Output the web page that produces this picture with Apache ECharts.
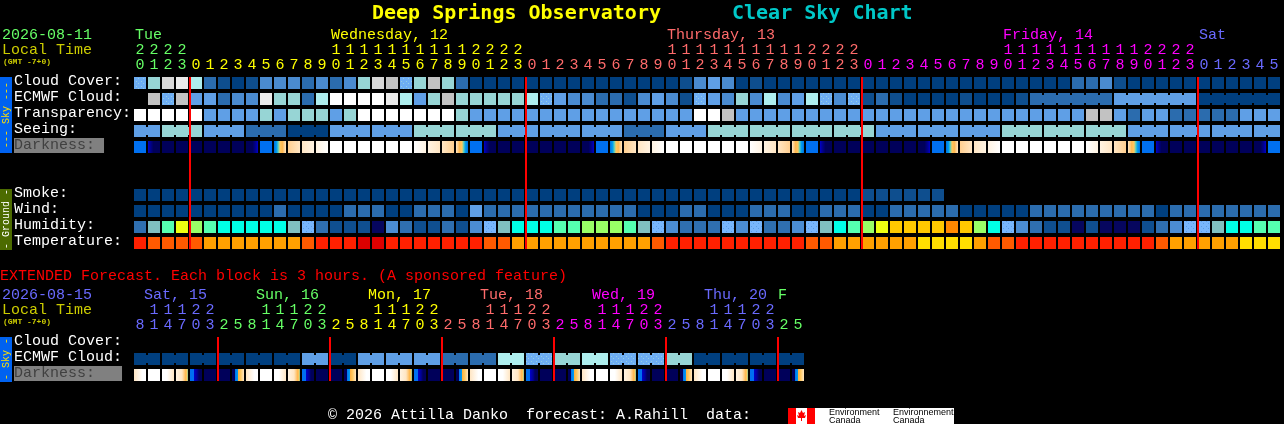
<!DOCTYPE html>
<html><head><meta charset="utf-8">
<style>html,body{margin:0;padding:0;background:#000;overflow:hidden}#c{width:1284px;height:424px}</style>
<script src="https://cdn.jsdelivr.net/npm/echarts@6/dist/echarts.min.js"></script>
</head><body><div id="c"></div>
<script>
/* ---------- data ---------- */
const hourUnits = "0 1 2 3 0 1 2 3 4 5 6 7 8 9 0 1 2 3 4 5 6 7 8 9 0 1 2 3 0 1 2 3 4 5 6 7 8 9 0 1 2 3 4 5 6 7 8 9 0 1 2 3 0 1 2 3 4 5 6 7 8 9 0 1 2 3 4 5 6 7 8 9 0 1 2 3 0 1 2 3 4 5".split(" ");
const hourTens  = "2 2 2 2 . . . . . . . . . . 1 1 1 1 1 1 1 1 1 1 2 2 2 2 . . . . . . . . . . 1 1 1 1 1 1 1 1 1 1 2 2 2 2 . . . . . . . . . . 1 1 1 1 1 1 1 1 1 1 2 2 2 2 . . . . . .".split(" ").map(s => s === "." ? "" : s);
const dayNames = {0:"Tue",14:"Wednesday, 12",38:"Thursday, 13",62:"Friday, 14",76:"Sat"};
const rowLabels = ["Cloud Cover:","ECMWF Cloud:","Transparency:","Seeing:","Darkness:","","","Smoke:","Wind:","Humidity:","Temperature:"];
const midnights = [4,28,52,76];

const cloudCover   = [5,6,9,10,7,2,1,0,1,3,3,3,2,3,2,3,6,9,8,5,6,8,6,2,0,0,0,0,0,0,0,0,0,0,0,0,0,0,0,1,3,4,3,0,1,0,0,0,0,0,0,0,0,0,0,0,0,0,0,0,0,0,0,0,0,0,0,2,2,3,1,0,0,0,0,0,0,0,0,0,0,0];
const ecmwfCloud   = [null,8,5,8,4,4,2,3,3,10,6,6,2,7,11,11,11,11,10,7,4,6,8,6,6,6,6,6,7,5,4,3,3,2,2,1,3,4,3,1,5,4,3,6,3,7,3,4,7,5,3,5,1,2,1,0,0,0,0,1,0,0,0,1,2,2,2,2,2,2,4,4,4,4,4,4,0,0,0,0,0,0];
const ecmwfBlocks  = [64,6,6,6];
const transparency = [11,11,11,11,11,4,4,4,4,6,4,6,6,6,4,6,11,11,11,11,11,11,11,6,4,4,4,4,4,4,4,4,4,4,4,4,4,4,4,4,11,11,8,4,4,4,4,4,4,4,4,4,4,4,4,4,4,4,4,4,4,4,4,4,4,4,4,4,8,8,4,2,4,4,2,2,2,2,2,4,4,4];
const seeing       = [4,4,6,6,6,4,4,4,2,2,2,0,0,0,4,4,4,4,4,4,6,6,6,6,6,6,4,4,4,4,4,4,4,4,4,2,2,2,4,4,4,6,6,6,6,6,6,6,6,6,6,6,6,4,4,4,4,4,4,4,4,4,6,6,6,6,6,6,6,6,6,4,4,4,4,4,4,4,4,4,4,4];
const seeingBlocks = [2,3,3,3,3,3,3,3,3,3,3,3,3,3,3,3,3,3,3,3,3,3,3,3,3,3,3,2];
const darkness     = [3,2,0,0,0,0,0,0,1,3,4,5,6,7,8,8,8,8,8,8,9,10,11,12,3,2,0,0,0,0,0,0,1,3,4,5,6,7,8,8,8,8,8,8,9,10,11,12,3,2,0,0,0,0,0,0,1,3,4,5,6,7,8,8,8,8,8,8,9,10,11,12,3,2,0,0,0,0,0,0,1,3];
const smoke        = [0,0,0,0,0,0,0,0,0,0,0,0,0,0,0,0,0,0,0,0,0,0,0,0,0,0,0,0,0,0,0,0,0,0,0,0,0,0,0,0,0,0,0,0,0,0,0,0,0,0,0,0,1,1,1,1,1,1];
const wind         = [0,0,0,0,0,0,0,0,0,0,2,0,0,0,0,2,2,2,0,0,2,2,2,0,4,2,2,2,2,2,2,2,2,2,2,2,0,0,0,2,2,0,0,0,2,2,2,0,0,2,2,2,0,0,2,2,2,2,2,0,0,0,0,0,2,2,2,2,2,2,2,2,2,0,2,2,2,2,2,2,2,2];
const humidity     = [2,5,7,9,8,7,6,6,6,6,6,5,4,2,1,1,1,0,3,2,1,1,2,1,3,4,5,6,6,6,7,7,8,8,8,7,5,4,3,2,2,2,4,3,4,2,2,3,4,5,6,7,8,9,10,10,10,10,11,10,8,6,4,3,2,1,1,0,1,0,0,0,1,2,3,4,4,5,6,6,7,7];
const temperature  = [1,2,2,2,2,3,3,3,3,3,3,3,2,1,1,1,0,0,1,1,1,1,1,1,1,2,2,3,3,3,3,3,3,3,3,3,3,2,1,1,1,1,1,1,1,1,1,1,2,2,3,3,3,3,3,3,4,4,4,4,3,2,2,1,1,1,1,1,1,1,1,1,1,2,3,3,3,3,3,4,4,4];

const extUnits = "8 1 4 7 0 3 2 5 8 1 4 7 0 3 2 5 8 1 4 7 0 3 2 5 8 1 4 7 0 3 2 5 8 1 4 7 0 3 2 5 8 1 4 7 0 3 2 5".split(" ");
const extTens  = ". 1 1 1 2 2 . . . 1 1 1 2 2 . . . 1 1 1 2 2 . . . 1 1 1 2 2 . . . 1 1 1 2 2 . . . 1 1 1 2 2 . .".split(" ").map(s => s === "." ? "" : s);
const extDays  = {0:"Sat, 15",8:"Sun, 16",16:"Mon, 17",24:"Tue, 18",32:"Wed, 19",40:"Thu, 20",46:"F"};
const extRowLabels = ["Cloud Cover:","ECMWF Cloud:","Darkness:"];
const extMidnights = [6,14,22,30,38,46];
const extEcmwf = [0,0,0,0,0,0,4,0,4,4,4,2,2,7,5,6,7,5,5,6,0,0,0,0];   /* one value per 2-block group */
const extDarkness = [13,8,14,15,16,0,0,17,13,8,14,15,16,0,0,17,13,8,14,15,16,0,0,17,13,8,14,15,16,0,0,17,13,8,14,15,16,0,0,17,13,8,14,15,16,0,0,17];

/* ---------- styles ---------- */
const FONT = '"Liberation Mono"';
const GREEN="#66ff66", YEL="#ffff00", SAL="#ff6b6b", MAG="#ff00ff", BLU="#6a6aff";
const mainDayColor = i => i<4?GREEN : i<28?YEL : i<52?SAL : i<76?MAG : BLU;
const extDayColor  = i => i<6?BLU : i<14?GREEN : i<22?YEL : i<30?SAL : i<38?MAG : i<46?BLU : GREEN;
function dotted(base,dot){ /* dither texture of the lightest blue cells */
  const cv=document.createElement("canvas"); cv.width=cv.height=5;
  const g=cv.getContext("2d"); g.fillStyle=base; g.fillRect(0,0,5,5);
  g.fillStyle=dot; g.fillRect(1,1,1,1); g.fillRect(3,3,1,1);
  return {image:cv,repeat:"repeat"};
}
const cloudPal = ["#003f7f","#0e4e8e","#2b6cae","#4a8bd0","#5f9fe6",dotted("#6eaef4","#94d0e0"),"#97d5d5","#aeeeee","#c2c2c2","#d8d8d8","#ebebeb","#ffffff"];
const humPal   = ["#06065e","#0f4f90","#2f6fb0","#4b8cd2",dotted("#78b6fc","#5a9ce6"),"#80c0c0","#00ffe6","#55ffb0","#99ff66","#eeff11","#ffc800","#ff8800"];
const tempPal  = ["#dd0000","#ff2000","#ff5a00","#ffa000","#ffde00"];
const N="#00005a", B="#0070f0", P="#fff3e2", C="#ffe6c4", O="#ffcf90";
const darkStops = [
 [[0,N],[1,N]],
 [[0,N],[.55,N],[.8,"#000090"],[1,"#0000c8"]],
 [[0,"#0000c8"],[.2,"#000090"],[.45,N],[1,N]],
 [[0,B],[1,"#0070f0"]],
 [[0,"#0070e0"],[.22,"#00a0f0"],[.38,"#70d0b0"],[.5,"#ffc860"],[.7,"#ffb850"],[1,C]],
 [[0,O],[1,C]],
 [[0,C],[1,P]],
 [[0,P],[1,"#ffffff"]],
 [[0,"#ffffff"],[1,"#ffffff"]],
 [[0,"#ffffff"],[1,P]],
 [[0,P],[1,C]],
 [[0,C],[1,O]],
 [[0,C],[.3,"#ffb850"],[.5,"#ffc860"],[.62,"#70d0b0"],[.78,"#00a0f0"],[1,"#0070e0"]],
 [[0,C],[.7,"#ffffff"],[1,"#ffffff"]],
 [[0,"#ffffff"],[.4,"#ffffff"],[1,C]],
 [[0,P],[.5,C],[.8,"#ffb850"],[.92,"#ffc860"],[1,"#60c8a0"]],
 [[0,B],[.33,B],[.35,"#0000c8"],[.6,"#000090"],[.75,N],[1,N]],
 [[0,N],[.22,N],[.25,B],[.5,"#00a0f0"],[.52,"#ffb040"],[.72,"#ffc860"],[1,C]]
];
const darkFill = darkStops.map(st => ({type:"linear",x:0,y:0,x2:1,y2:0,colorStops:st.map(s=>({offset:s[0],color:s[1]}))}));

/* ---------- helpers ---------- */
function blockEnds(blocks){ const s=new Set(); let p=0; blocks.forEach(n=>{p+=n; s.add(p-1)}); return s; }
function toData(values,row,joined){ /* joined(col) -> cell connects to the next one */
  const out=[]; values.forEach((v,c)=>{ if(v!==null) out.push([c,row,v,joined&&joined(c)&&c<values.length-1?1:0]); });
  return out;
}
function cells(name,gridIx,values,row,fills,joined){
  return {name,type:"custom",xAxisIndex:gridIx*3,yAxisIndex:gridIx,silent:true,animation:false,clip:false,
    data:toData(values,row,joined),encode:{x:0,y:1},
    renderItem(p,api){
      const c=api.coord([api.value(0),api.value(1)]), s=api.size([1,1]);
      const w=s[0]-2, h=s[1]-4, fill=fills[api.value(2)], kids=[
        {type:"rect",shape:{x:c[0]-w/2,y:c[1]-h/2,width:w,height:h},style:{fill}}];
      if(api.value(3)) kids.push({type:"rect",shape:{x:c[0]+w/2-1,y:c[1]-4,width:4,height:8},style:{fill}});
      return {type:"group",children:kids};
    }};
}
function redLines(name,gridIx,cols,firstRow,lastRow){
  return {name,type:"custom",xAxisIndex:gridIx*3,yAxisIndex:gridIx,silent:true,animation:false,clip:false,z:10,
    data:cols.map(c=>[c]),encode:{x:0},
    renderItem(p,api){
      const s=api.size([1,1]), a=api.coord([api.value(0),firstRow]), b=api.coord([api.value(0),lastRow]);
      const top=a[1]-s[1]/2+2, bot=b[1]+s[1]/2-2;
      return {type:"rect",z2:100,shape:{x:a[0]-s[0]/2,y:top,width:2,height:bot-top},style:{fill:"#ff0000"}};
    }};
}
function xAxes(gridIx,units,tens,days,colorFn,dayPad){
  const n=units.length, base={type:"category",gridIndex:gridIx,position:"top",axisLine:{show:false},axisTick:{show:false},splitLine:{show:false},silent:true};
  const lbl={interval:0,hideOverlap:false,fontFamily:FONT,fontSize:15,color:(v,i)=>colorFn(i)};
  const dayCats=[]; for(let i=0;i<=n;i++) dayCats.push(days[i]||"");
  return [
    {...base,data:units,axisLabel:{...lbl,margin:2}},
    {...base,data:tens,offset:15,axisLabel:{...lbl,margin:2}},
    {...base,data:dayCats.map((d,i)=>({value:d||("_"+i)})),boundaryGap:false,offset:30,
      axisLabel:{...lbl,margin:2,align:"left",
        formatter:(v)=>v[0]==="_"?"":(v==="F"?"{f|F}":"{d|"+v+"}"),
        color:(v,i)=>colorFn(i===undefined?0:i),
        rich:{d:{padding:[0,0,0,dayPad]},f:{padding:[0,0,0,1]}}}}
  ];
}
function yAxis(gridIx,labels,darkPad){
  return {type:"category",gridIndex:gridIx,inverse:true,data:labels,axisLine:{show:false},axisTick:{show:false},splitLine:{show:false},silent:true,
    axisLabel:{interval:0,align:"left",margin:119,fontFamily:FONT,fontSize:15,color:"#ffffff",padding:[0,0,3,0],
      formatter:v=>v==="Darkness:"?"{d|Darkness:}":v,
      rich:{d:{backgroundColor:"#808080",color:"#404040",fontFamily:FONT,fontSize:15,lineHeight:15,padding:[0,darkPad,0,0]}}}};
}
const t=(text,x,y,fill,size,extra)=>({type:"text",x,y,silent:true,style:{text,fill,font:(extra||"")+" "+size+"px "+FONT,textVerticalAlign:"middle"}});
const sideBar=(y,h,fill)=>({type:"rect",shape:{x:0,y,width:12,height:h},style:{fill},silent:true});
const sideText=(text,cy,fill)=>({type:"text",x:6,y:cy,rotation:Math.PI/2,silent:true,style:{text,fill,font:"10px "+FONT,textAlign:"center",textVerticalAlign:"middle"}});

const seeEnds=blockEnds(seeingBlocks), ecmwfEnds=blockEnds(ecmwfBlocks);
const option={
  backgroundColor:"#000",animation:false,tooltip:{show:false},
  title:[
    {text:"Deep Springs Observatory",left:372,top:4,padding:0,textStyle:{color:"#ffff00",fontFamily:'"DejaVu Sans Mono"',fontWeight:"bold",fontSize:20}},
    {text:"Clear Sky Chart",left:732,top:4,padding:0,textStyle:{color:"#00c8c8",fontFamily:'"DejaVu Sans Mono"',fontWeight:"bold",fontSize:20}}
  ],
  grid:[
    {left:133,top:75,width:1148,height:176},
    {left:133,top:335,width:672,height:48}
  ],
  xAxis:[...xAxes(0,hourUnits,hourTens,dayNames,mainDayColor,2),...xAxes(1,extUnits,extTens,extDays,extDayColor,11)],
  yAxis:[yAxis(0,rowLabels,9),yAxis(1,extRowLabels,27)],
  series:[
    cells("Cloud Cover",0,cloudCover,0,cloudPal),
    cells("ECMWF Cloud",0,ecmwfCloud,1,cloudPal,c=>c>=64&&!ecmwfEnds.has(c)),
    cells("Transparency",0,transparency,2,cloudPal),
    cells("Seeing",0,seeing,3,cloudPal,c=>!seeEnds.has(c)),
    cells("Darkness",0,darkness,4,darkFill),
    cells("Smoke",0,smoke,7,cloudPal),
    cells("Wind",0,wind,8,cloudPal),
    cells("Humidity",0,humidity,9,humPal),
    cells("Temperature",0,temperature,10,tempPal),
    redLines("Midnight",0,midnights,0,10),
    cells("Ext ECMWF Cloud",1,extEcmwf.flatMap(v=>[v,v]),1,cloudPal,c=>c%2===0),
    cells("Ext Darkness",1,extDarkness,2,darkFill),
    redLines("Ext Midnight",1,extMidnights,0,2)
  ],
  graphic:{elements:[
    t("2026-08-11",2,35,GREEN,15),t("Local Time",2,50,"#cccc00",15),t("(GMT -7+0)",3,62,"#cccc00",8,"bold"),
    t("2026-08-15",2,295,BLU,15),t("Local Time",2,310,"#cccc00",15),t("(GMT -7+0)",3,322,"#cccc00",8,"bold"),
    t("EXTENDED Forecast. Each block is 3 hours. (A sponsored feature)",0,276,"#ff0000",15),
    t("\u00a9 2026 Attilla Danko  forecast: A.Rahill  data:",328,415,"#ffffff",15),
    sideBar(77,76,"#0062f0"),sideText("--- Sky ---",115,"#ffe000"),
    sideBar(189,61,"#4c6b00"),sideText("- Ground -",219,"#ffffff"),
    sideBar(337,45,"#0062f0"),sideText("- Sky -",359,"#ffe000"),
    {type:"rect",shape:{x:788,y:408,width:166,height:16},style:{fill:"#ffffff"},silent:true},
    {type:"rect",shape:{x:788,y:408,width:8,height:16},style:{fill:"#ff0000"},silent:true},
    {type:"rect",shape:{x:807,y:408,width:8,height:16},style:{fill:"#ff0000"},silent:true},
    {type:"polygon",shape:{points:[[801.5,410],[803,413],[805,412],[804,416],[806,415],[805,418],[802,418],[802,421],[801,421],[801,418],[798,418],[797,415],[799,416],[798,412],[800,413]]},style:{fill:"#ff0000"},silent:true},
    {type:"text",x:829,y:413,silent:true,style:{text:"Environment",fill:"#000",font:'9px "Liberation Sans"',textVerticalAlign:"middle"}},
    {type:"text",x:829,y:421,silent:true,style:{text:"Canada",fill:"#000",font:'9px "Liberation Sans"',textVerticalAlign:"middle"}},
    {type:"text",x:893,y:413,silent:true,style:{text:"Environnement",fill:"#000",font:'9px "Liberation Sans"',textVerticalAlign:"middle"}},
    {type:"text",x:893,y:421,silent:true,style:{text:"Canada",fill:"#000",font:'9px "Liberation Sans"',textVerticalAlign:"middle"}}
  ]}
};
echarts.init(document.getElementById("c"),null,{renderer:"canvas"}).setOption(option);
</script></body></html>
